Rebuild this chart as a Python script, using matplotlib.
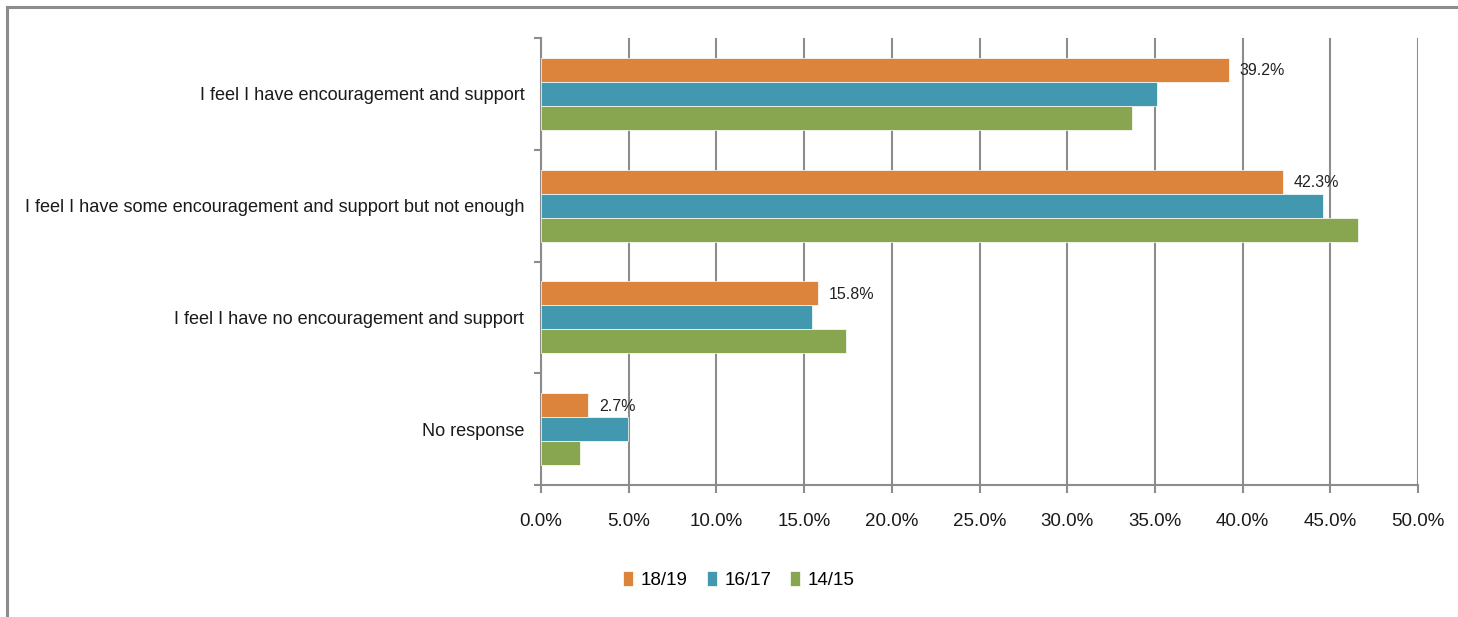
import matplotlib
matplotlib.use("Agg")
from matplotlib import pyplot as plt
from matplotlib.lines import Line2D
from matplotlib.ticker import FuncFormatter
import numpy as np

plt.rcParams['font.family'] = ['Liberation Sans Narrow', 'Liberation Sans', 'DejaVu Sans']

categories = ["I feel I have encouragement and support",
              "I feel I have some encouragement and support but not enough",
              "I feel I have no encouragement and support",
              "No response"]
series = ["18/19", "16/17", "14/15"]
v1819 = [39.2, 42.3, 15.8, 2.7]
v1617 = [35.1, 44.6, 15.45, 4.95]
v1415 = [33.7, 46.6, 17.4, 2.2]
colors = ["#DD843C", "#4198AF", "#88A54F"]

fig = plt.figure(figsize=(14.58, 6.17), dpi=100)
ax = fig.add_axes([541/1458, 1-485/617, 877/1458, 447/617])

y = np.arange(len(categories))
h = 0.215
for k, (vals, lab) in enumerate(zip([v1819, v1617, v1415], series)):
    ax.barh(y + (k-1)*h, vals, height=h, color=colors[k], label=lab,
            edgecolor="white", linewidth=0.5, zorder=3)

# labels only on newest series
for i, v in enumerate(v1819):
    ax.text(v + 0.6, y[i] - h + 0.01, f"{v:.1f}%", va="center", ha="left",
            fontsize=11.5, color="#222222", zorder=4)

ax.set_xlim(0, 50)
ax.set_ylim(len(categories)-0.5, -0.5)
ax.set_xticks(np.arange(0, 50.1, 5))
ax.xaxis.set_major_formatter(FuncFormatter(lambda x, p: f"{x:.1f}%"))
ax.set_yticks(y)
ax.set_yticklabels(categories)
ax.set_yticks(np.arange(-0.5, len(categories), 1), minor=True)
ax.tick_params(axis="y", which="major", length=0, pad=12, labelsize=13.1, labelcolor="#1a1a1a")
ax.tick_params(axis="y", which="minor", length=5, width=1.5, color="#8c8c8c")
ax.tick_params(axis="x", length=6, width=1.5, color="#8c8c8c", pad=14,
               labelsize=13.5, labelcolor="#1a1a1a")
ax.grid(axis="x", color="#8c8c8c", linewidth=1.5, zorder=0)
for s in ["top", "right"]:
    ax.spines[s].set_visible(False)
for s in ["left", "bottom"]:
    ax.spines[s].set_color("#8c8c8c")
    ax.spines[s].set_linewidth(1.5)

ax.legend(loc="center", bbox_to_anchor=(739/1458, 1-580/617), bbox_transform=fig.transFigure,
          ncol=3, frameon=False, fontsize=13.5, handlelength=0.55, handleheight=0.9,
          handletextpad=0.4, columnspacing=1.0)

# outer frame (partly cropped)
fig.add_artist(Line2D([7/1458, 7/1458], [0, 1-7/617], color="#8c8c8c", linewidth=2.2))
fig.add_artist(Line2D([7/1458, 1], [1-7/617, 1-7/617], color="#8c8c8c", linewidth=2.2))

fig.savefig("out.png", dpi=100)
